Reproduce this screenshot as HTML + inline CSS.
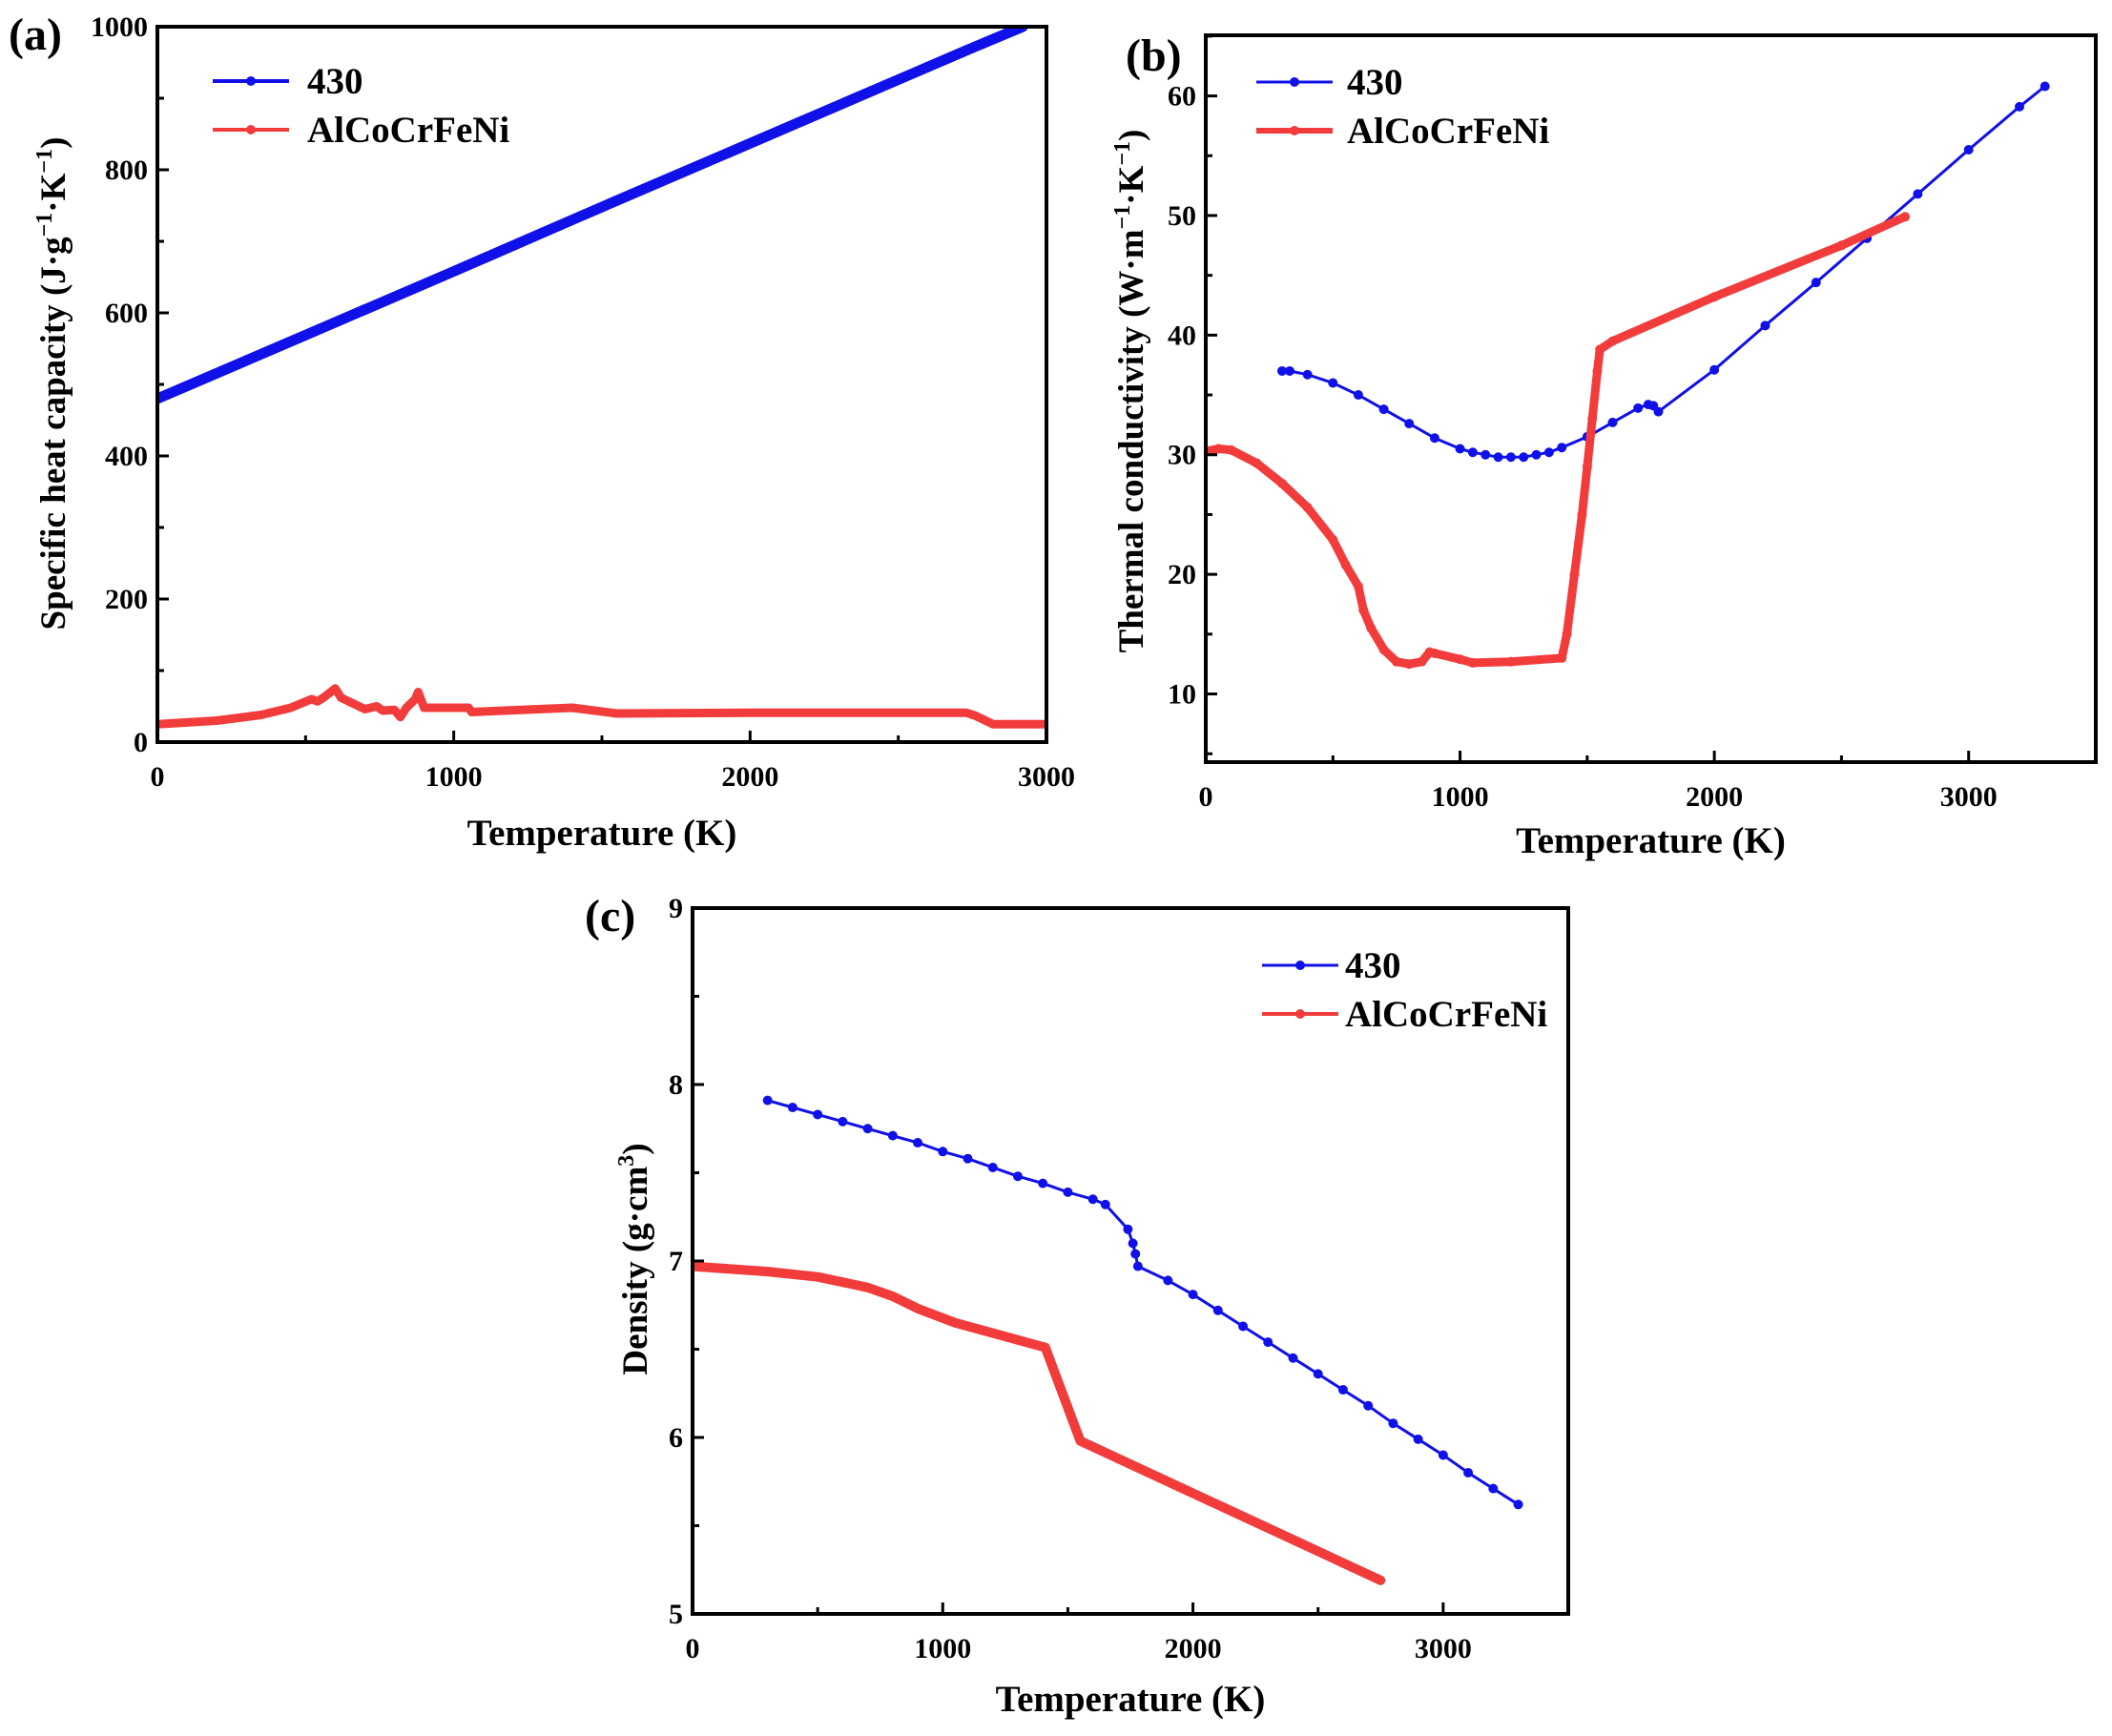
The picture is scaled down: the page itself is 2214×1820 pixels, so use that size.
<!DOCTYPE html>
<html><head><meta charset="utf-8"><style>
html,body{margin:0;padding:0;background:#fff;}
svg{display:block;font-family:"Liberation Serif",serif;font-weight:bold;}
</style></head><body>
<svg id="fig" width="2214" height="1820" viewBox="0 0 2214 1820" xmlns="http://www.w3.org/2000/svg"></svg>
<script>
// ---- Panel (a): specific heat capacity ----
const aBlueT = [0, 500, 1000, 1400, 1550, 2000, 2500, 2730, 2920];
const aBlueV = [480, 569, 658, 730, 757, 837, 926, 967, 1000];
const aRedT = [0, 200, 350, 450, 520, 540, 560, 600, 620, 700, 740, 760, 800, 820, 840, 870, 880, 900, 1050, 1060, 1400, 1550, 2000, 2730, 2760, 2820, 3000];
const aRedV = [25, 30, 38, 48, 60, 57, 62, 75, 62, 46, 50, 44, 45, 35, 48, 60, 70, 48, 48, 42, 48, 40, 41, 41, 37, 25, 25];
// ---- Panel (b): thermal conductivity ----
const bBlueT = [300,330,400,500,600,700,800,900,1000,1050,1100,1150,1200,1250,1300,1350,1400,1500,1600,1700,1740,1760,1780,2000,2200,2400,2600,2800,3000,3200,3300];
const bBlueV = [37,37,36.7,36,35,33.8,32.6,31.4,30.5,30.2,30,29.8,29.8,29.8,30,30.2,30.6,31.5,32.7,33.9,34.2,34.1,33.6,37.1,40.8,44.4,48.1,51.8,55.5,59.1,60.8];
const bRedT = [0,50,100,200,300,400,500,550,600,620,650,700,750,800,850,880,900,1000,1050,1200,1400,1420,1450,1480,1500,1520,1540,1550,1600,2000,2500,2750];
const bRedV = [30.3,30.5,30.4,29.3,27.6,25.6,22.9,20.8,19,17,15.5,13.7,12.7,12.5,12.7,13.5,13.4,12.9,12.6,12.7,13,15,20,25,29,33,37,38.8,39.5,43.2,47.5,49.9];
// ---- Panel (c): density ----
const cBlueT = [300,400,500,600,700,800,900,1000,1100,1200,1300,1400,1500,1600,1650,1740,1760,1770,1780,1900,2000,2100,2200,2300,2400,2500,2600,2700,2800,2900,3000,3100,3200,3300];
const cBlueV = [7.91,7.87,7.83,7.79,7.75,7.71,7.67,7.62,7.58,7.53,7.48,7.44,7.39,7.35,7.32,7.18,7.1,7.04,6.97,6.89,6.81,6.72,6.63,6.54,6.45,6.36,6.27,6.18,6.08,5.99,5.9,5.8,5.71,5.62];
const cRedT = [0,300,500,700,800,900,1050,1410,1550,2750];
const cRedV = [6.97,6.94,6.91,6.85,6.8,6.73,6.65,6.51,5.98,5.19];
// tick labels
const aXTicks = [0,1000,2000,3000];
const aYTicks = [0,200,400,600,800,1000];
const bXTicks = [0,1000,2000,3000];
const bYTicks = [10,20,30,40,50,60];
const cXTicks = [0,1000,2000,3000];
const cYTicks = [5,6,7,8,9];
const seriesNames = ["430","AlCoCrFeNi"];

const NS="http://www.w3.org/2000/svg";
const svg=document.getElementById('fig');
function mk(tag,attrs,parent){const e=document.createElementNS(NS,tag);for(const k in attrs)e.setAttribute(k,attrs[k]);(parent||svg).appendChild(e);return e;}
const BLUE="#1010e8", RED="#f23c3c";

function panel(p){
  const g=mk('g',{});
  
  
  const sx=v=>p.L+(v-p.x0)/(p.x1-p.x0)*(p.R-p.L);
  const sy=v=>p.B-(v-p.y0)/(p.y1-p.y0)*(p.B-p.T);
  const cid='clip'+p.id;
  const cp=mk('clipPath',{id:cid},g);mk('rect',{x:p.L,y:p.T,width:p.R-p.L,height:p.B-p.T},cp);
  p.series.forEach((s,si)=>{
    const sg=mk('g',{'clip-path':'url(#'+cid+')'},g);
    
    
    const pts=s.t.map((t,i)=>sx(t).toFixed(1)+','+sy(s.v[i]).toFixed(1)).join(' ');
    const pl=mk('polyline',{points:pts,fill:'none',stroke:s.color,'stroke-width':s.w,'stroke-linejoin':'round','stroke-linecap':'round'},sg);
    
    
    if(s.r){s.t.forEach((t,i)=>{
      const c=mk('circle',{cx:sx(t),cy:sy(s.v[i]),r:s.r,fill:s.color},sg);
      
      
    });}
  });
  const fr=mk('rect',{x:p.L,y:p.T,width:p.R-p.L,height:p.B-p.T,fill:'none',stroke:'#000','stroke-width':4},g);
  
  
  p.xt.forEach(v=>{
    const x=sx(v);
    mk('line',{x1:x,y1:p.B,x2:x,y2:p.B-12,stroke:'#000','stroke-width':3},g);
    const t=mk('text',{x:x,y:p.B+46,'text-anchor':'middle','font-size':30},g);t.textContent=v;
    
    
  });
  for(let v=p.x0+p.xm;v<p.x1;v+=p.xm){if(p.xt.indexOf(v)<0)mk('line',{x1:sx(v),y1:p.B,x2:sx(v),y2:p.B-7,stroke:'#000','stroke-width':3},g);}
  p.yt.forEach(v=>{
    const y=sy(v);
    mk('line',{x1:p.L,y1:y,x2:p.L+12,y2:y,stroke:'#000','stroke-width':3},g);
    const t=mk('text',{x:p.L-10,y:y+10,'text-anchor':'end','font-size':30},g);t.textContent=v;
    
    
  });
  for(let v=p.yt[0]-p.ym;v<p.y1;v+=p.ym){if(v>p.y0&&p.yt.indexOf(Math.round(v*100)/100)<0){mk('line',{x1:p.L,y1:sy(v),x2:p.L+7,y2:sy(v),stroke:'#000','stroke-width':3},g);}}
  const xt=mk('text',{x:(p.L+p.R)/2,y:p.xty,'text-anchor':'middle','font-size':39},g);xt.textContent='Temperature (K)';
  
  
  const yt=mk('text',{x:0,y:0,'text-anchor':'middle','font-size':37,transform:'translate('+p.ytx+','+p.yty+') rotate(-90)'},g);
  yt.innerHTML=p.ylab;
  
  
  const lab=mk('text',{x:p.labx,y:p.laby,'font-size':48},g);lab.textContent='('+p.id+')';
  
  
  p.series.forEach((s,i)=>{
    const y=p.lg.y+i*p.lg.dy;
    const lg=mk('g',{},g);
    
    
    mk('line',{x1:p.lg.x,y1:y,x2:p.lg.x+80,y2:y,stroke:s.color,'stroke-width':s.lw||4},lg);
    mk('circle',{cx:p.lg.x+40,cy:y,r:5,fill:s.color},lg);
    const t=mk('text',{x:p.lg.tx,y:y+13,'font-size':39},lg);t.textContent=seriesNames[i];
  });
}
panel({id:'a',L:165,R:1097,T:28,B:778,x0:0,x1:3000,y0:0,y1:1000,xt:aXTicks,yt:aYTicks,xm:500,ym:100,
  series:[{t:aBlueT,v:aBlueV,color:BLUE,w:11,lw:4},{t:aRedT,v:aRedV,color:RED,w:9,lw:4}],
  xty:886,ytx:68,yty:402,ylab:'Specific heat capacity (J·g<tspan dy="-14" font-size="24">−1</tspan><tspan dy="14">·K</tspan><tspan dy="-14" font-size="24">−1</tspan><tspan dy="14">)</tspan>',
  labx:9,laby:52,lg:{x:223,y:85,dy:51,tx:322}});
panel({id:'b',L:1264,R:2197,T:37,B:799,x0:0,x1:3500,y0:4.3,y1:65.07,xt:bXTicks,yt:bYTicks,xm:500,ym:5,
  series:[{t:bBlueT,v:bBlueV,color:BLUE,w:3,r:5,lw:3},{t:bRedT,v:bRedV,color:RED,w:9,r:5,lw:6}],
  xty:894,ytx:1198,yty:410,ylab:'Thermal conductivity (W·m<tspan dy="-14" font-size="24">−1</tspan><tspan dy="14">·K</tspan><tspan dy="-14" font-size="24">−1</tspan><tspan dy="14">)</tspan>',
  labx:1180,laby:74,lg:{x:1317,y:86,dy:51,tx:1412}});
panel({id:'c',L:726,R:1644,T:952,B:1692,x0:0,x1:3500,y0:5,y1:9,xt:cXTicks,yt:cYTicks,xm:500,ym:0.5,
  series:[{t:cBlueT,v:cBlueV,color:BLUE,w:3,r:5,lw:3},{t:cRedT,v:cRedV,color:RED,w:10,lw:4}],
  xty:1794,ytx:678,yty:1320,ylab:'Density (g·cm<tspan dy="-14" font-size="24">3</tspan><tspan dy="14">)</tspan>',
  labx:613,laby:976,lg:{x:1323,y:1012,dy:51,tx:1410}});
</script>
</body></html>
